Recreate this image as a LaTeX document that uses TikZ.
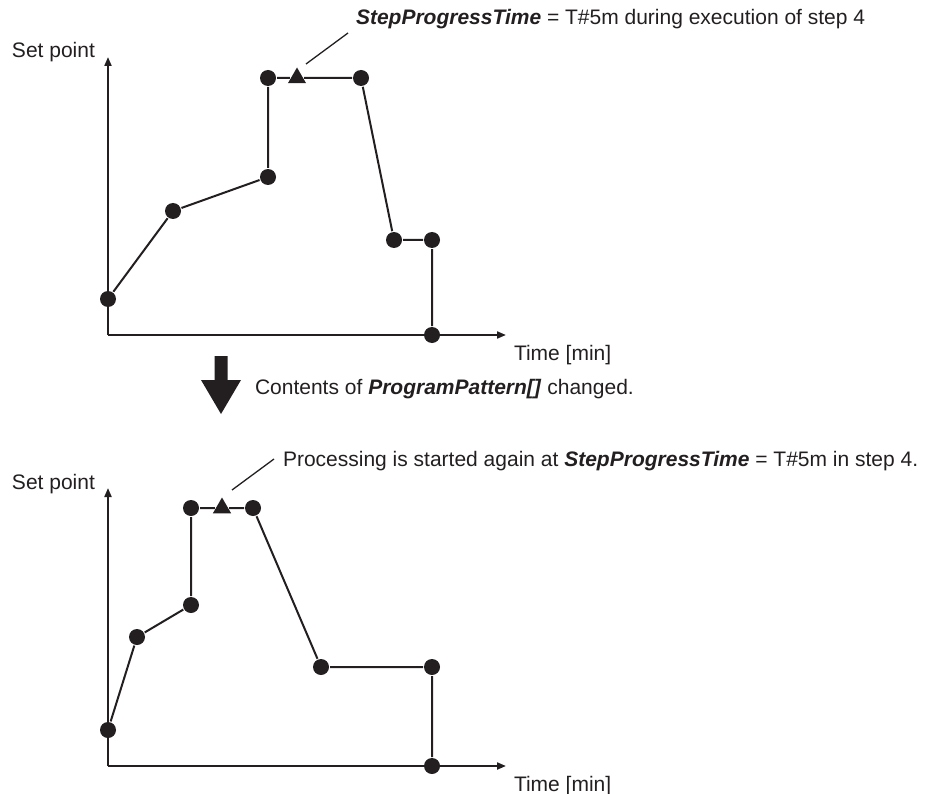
\documentclass[tikz,border=0pt]{standalone}
\usepackage{fontspec}
\setmainfont{Liberation Sans}
\usepackage{tikz}
\usetikzlibrary{arrows.meta,shapes.geometric}
\usepackage{xcolor}
\definecolor{ink}{RGB}{35,31,32}

\begin{document}
\begin{tikzpicture}[x=1pt, y=-1pt, line width=2pt, draw=ink,
    every node/.style={font=\fontsize{21}{25}\selectfont, text=ink},
    txt/.style={anchor=base west, inner sep=0pt},
    dot/.style={circle, fill=ink, inner sep=0pt, minimum size=16pt},
    tri/.style={regular polygon, regular polygon sides=3, fill=ink, inner sep=0pt, minimum size=21pt},
    axis/.style={-{Triangle[length=9pt,width=7pt]}},
    leader/.style={line width=1.3pt}]
  \useasboundingbox (0,0) rectangle (928,794);

  \coordinate (o1) at (108,335);
  \coordinate (ytip1) at (108,57);
  \coordinate (xtip1) at (506,335);
  \draw[axis] (o1) -- (ytip1);
  \draw[axis] (o1) -- (xtip1);
  \node[dot] (a1) at (108,299) {};
  \node[dot] (a2) at (173,211) {};
  \node[dot] (a3) at (268,177) {};
  \node[dot] (a4) at (268,78) {};
  \node[tri] (t1) at (297,78) {};
  \node[dot] (a5) at (361,78) {};
  \node[dot] (a6) at (394,240) {};
  \node[dot] (a7) at (432,240) {};
  \node[dot] (a8) at (432,335) {};
  \draw (a1) -- (a2) -- (a3) -- (a4) -- (t1) -- (a5) -- (a6) -- (a7) -- (a8);
  \node[txt] (sp1) at (11,58) {Set point};
  \node[txt] (tm1) at (513,360) {Time [min]};
  \node[txt] (note1) at (355,25) {\textbf{\textit{StepProgressTime}} = T\#5m during execution of step 4};
  \coordinate (ld1) at (306,64);
  \coordinate (le1) at (348,33);
  \draw[leader] (ld1) -- (le1);

  \fill[ink] (214.5,356) -- (227.5,356) -- (227.5,380) -- (241,380) -- (221,414)
    -- (201,380) -- (214.5,380) -- cycle;
  \node[txt] (chg) at (254,394) {Contents of \textbf{\textit{ProgramPattern[]}} changed.};

  \coordinate (o2) at (108,766);
  \coordinate (ytip2) at (108,488);
  \coordinate (xtip2) at (506,766);
  \draw[axis] (o2) -- (ytip2);
  \draw[axis] (o2) -- (xtip2);
  \node[dot] (b1) at (108,730) {};
  \node[dot] (b2) at (137,637) {};
  \node[dot] (b3) at (191,605) {};
  \node[dot] (b4) at (191,508) {};
  \node[tri] (t2) at (222,508) {};
  \node[dot] (b5) at (253,508) {};
  \node[dot] (b6) at (321,667) {};
  \node[dot] (b7) at (432,667) {};
  \node[dot] (b8) at (432,766) {};
  \draw (b1) -- (b2) -- (b3) -- (b4) -- (t2) -- (b5) -- (b6) -- (b7) -- (b8);
  \node[txt] (sp2) at (11,489) {Set point};
  \node[txt] (tm2) at (513,791) {Time [min]};
  \node[txt] (note2) at (282,466) {Processing is started again at \textbf{\textit{StepProgressTime}} = T\#5m in step 4.};
  \coordinate (ld2) at (232,490);
  \coordinate (le2) at (274,459);
  \draw[leader] (ld2) -- (le2);
\end{tikzpicture}
\end{document}
